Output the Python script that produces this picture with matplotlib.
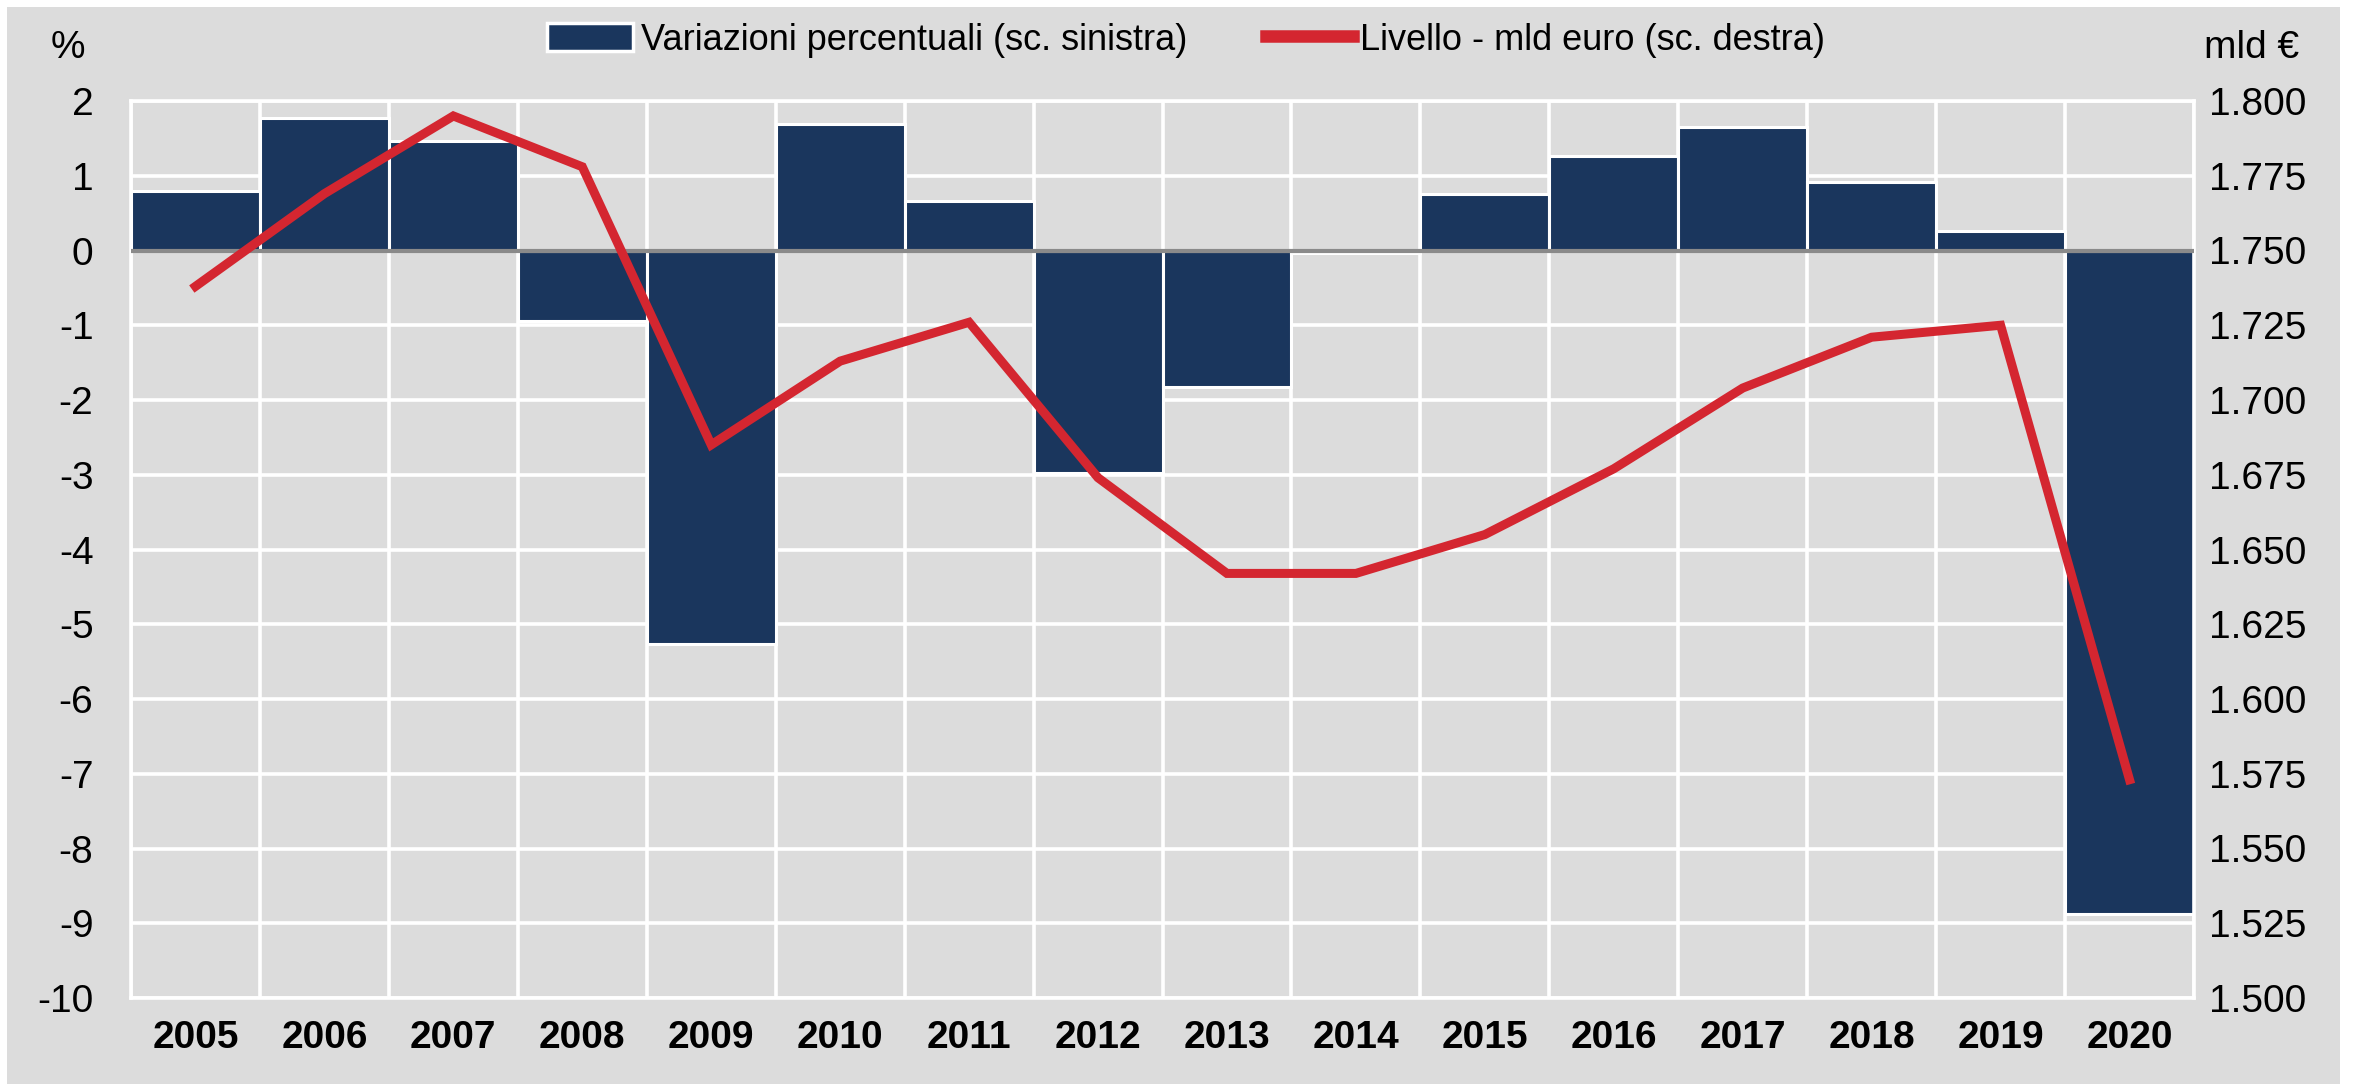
import matplotlib
matplotlib.use("Agg")
import matplotlib.pyplot as plt
import matplotlib.patches as mpatches
from matplotlib.lines import Line2D
from matplotlib.ticker import FuncFormatter
import numpy as np

years = ["2005", "2006", "2007", "2008", "2009", "2010", "2011", "2012",
         "2013", "2014", "2015", "2016", "2017", "2018", "2019", "2020"]
pct_change = [0.80, 1.77, 1.47, -0.94, -5.26, 1.69, 0.66, -2.97,
              -1.83, -0.03, 0.76, 1.27, 1.65, 0.92, 0.26, -8.88]
level_bn = [1738, 1769, 1795, 1778, 1685, 1713, 1726, 1674,
            1642, 1642, 1655, 1677, 1704, 1721, 1725, 1573]
left_ticks = list(range(-10, 3))
right_ticks = list(range(1500, 1801, 25))

bar_label = "Variazioni percentuali (sc. sinistra)"
line_label = "Livello - mld euro (sc. destra)"

BG = "#DCDCDC"
NAVY = "#1A365D"
RED = "#D42630"
FONT = ["Liberation Sans Narrow", "Liberation Sans", "DejaVu Sans"]
plt.rcParams["font.family"] = FONT

fig = plt.figure(figsize=(23.57, 10.91), dpi=100)
fig.patch.set_facecolor("white")
fig.patches.append(mpatches.Rectangle((7 / 2357, 7 / 1091), 1 - 24 / 2357, 1 - 14 / 1091,
                                      transform=fig.transFigure, facecolor=BG,
                                      edgecolor="none", zorder=-10))

ax = fig.add_axes([131 / 2357, 1 - 998 / 1091, (2194 - 131) / 2357, (998 - 101) / 1091])
ax.set_facecolor(BG)
x = np.arange(len(years))

ax.bar(x, pct_change, width=1.0, color=NAVY, edgecolor="white", linewidth=2.2, zorder=2)
ax.axhline(0, color="#8A8A8A", linewidth=3, zorder=3)

ax.set_xlim(-0.5, len(years) - 0.5)
ax.set_ylim(-10, 2)
ax.set_yticks(left_ticks)
ax.set_yticklabels([str(t) for t in left_ticks])
ax.set_xticks(x)
ax.set_xticklabels(years, fontweight="bold")
ax.set_xticks(np.arange(-0.5, len(years)), minor=True)
ax.grid(True, which="major", axis="y", color="white", linewidth=2.6, zorder=1)
ax.grid(True, which="minor", axis="x", color="white", linewidth=2.6, zorder=1)
ax.set_axisbelow(True)
ax.tick_params(axis="both", which="both", length=0)
ax.tick_params(axis="y", labelsize=28, pad=27)
ax.tick_params(axis="x", labelsize=28, pad=16)
for s in ax.spines.values():
    s.set_color("white")
    s.set_linewidth(2.6)

ax2 = ax.twinx()
ax2.plot(x, level_bn, color=RED, linewidth=6.5, solid_joinstyle="miter", zorder=5)
ax2.set_ylim(1500, 1800)
ax2.set_yticks(right_ticks)
ax2.yaxis.set_major_formatter(FuncFormatter(lambda v, p: f"{int(v):,}".replace(",", ".")))
ax2.tick_params(axis="y", length=0, labelsize=28, pad=11)
for s in ax2.spines.values():
    s.set_visible(False)

fig.text(68 / 2357, 1 - 48 / 1091, "%", fontsize=28, ha="center", va="center")
fig.text(2252 / 2357, 1 - 48 / 1091, "mld €", fontsize=28, ha="center", va="center")

handles = [mpatches.Patch(facecolor=NAVY, edgecolor="white", linewidth=2.5, label=bar_label),
           Line2D([0], [0], color=RED, linewidth=9, label=line_label)]
fig.legend(handles=handles, loc="center", bbox_to_anchor=(1186 / 2357, 1 - 40 / 1091),
           ncol=2, frameon=False, fontsize=26, handlelength=2.4, handleheight=0.8,
           handletextpad=0.2, columnspacing=2.2)

fig.savefig("out.png", dpi=100, facecolor=fig.get_facecolor())
